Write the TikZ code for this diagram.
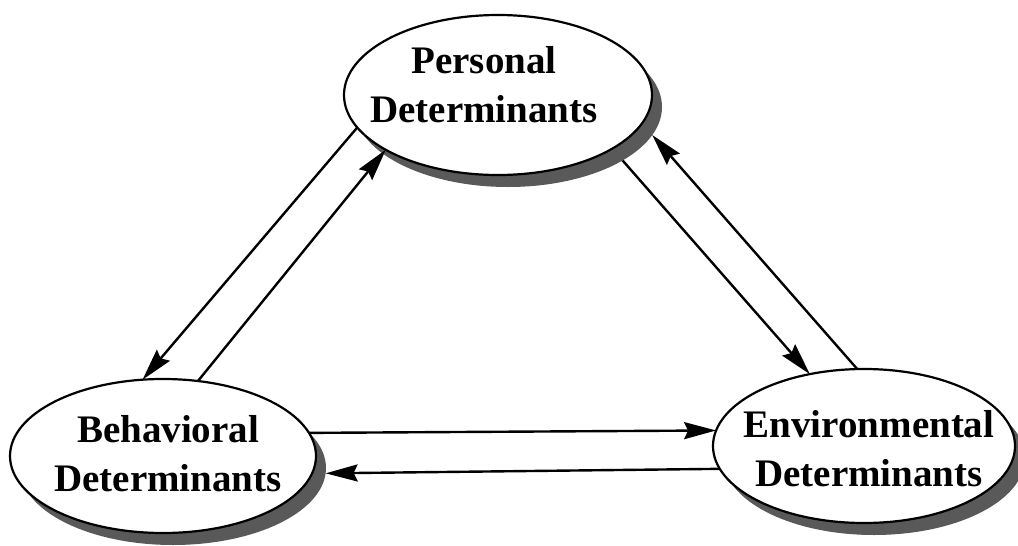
\documentclass[tikz,border=0pt]{standalone}
\usepackage{fontspec}
\setmainfont{Liberation Serif}
\usetikzlibrary{shapes.geometric,arrows.meta}
\tikzset{
  ell/.style={ellipse, draw=black, line width=2.2pt, fill=white, inner sep=0pt, outer sep=0pt},
  shad/.style={ellipse, fill=black!65, draw=none, inner sep=0pt, outer sep=0pt},
  lbl/.style={align=center, inner sep=0pt, font=\bfseries\fontsize{39}{49}\selectfont},
  conn/.style={line width=2.4pt, -{Stealth[length=32pt,width=17pt,inset=4pt]}}
}
\begin{document}
\begin{tikzpicture}[x=1pt,y=-1pt]
\useasboundingbox (0,0) rectangle (1018,546);
% shadows
\node[shad, minimum width=308pt, minimum height=160pt] (Ps) at (508,107) {};
\node[shad, minimum width=306pt, minimum height=154pt] (Bs) at (173,468) {};
\node[shad, minimum width=302pt, minimum height=154pt] (Es) at (874,458) {};
% ellipses
\node[ell, minimum width=308pt, minimum height=160pt] (P) at (498,95) {};
\node[ell, minimum width=306pt, minimum height=154pt] (B) at (163,456) {};
\node[ell, minimum width=302pt, minimum height=154pt] (E) at (864,446) {};
% labels
\node[lbl] (Pt) at (484,85) {Personal\\Determinants};
\node[lbl] (Bt) at (168,454) {Behavioral\\Determinants};
\node[lbl] (Et) at (869,449) {Environmental\\Determinants};
% connectors
\draw[conn] (P.193.7) -- (B.105.3);
\draw[conn] (B.65.9) -- (P.206.4);
\draw[conn] (Ps.335.1) -- (E.127.1);
\draw[conn] (E.95.2) -- (Ps.349.8);
\draw[conn] (B.9.3) -- (E.174.7);
\draw[conn] (E.189.9) -- (Bs.358.5);
\end{tikzpicture}
\end{document}
